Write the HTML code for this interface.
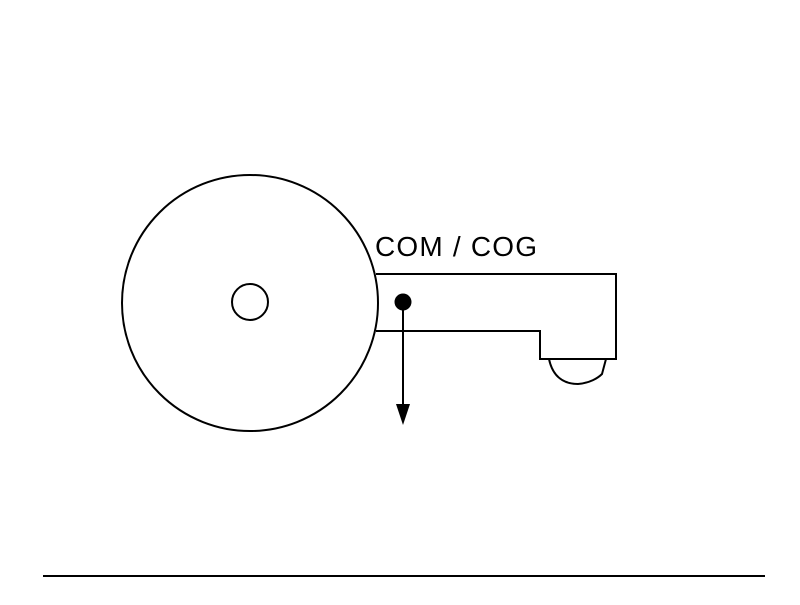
<!DOCTYPE html>
<html><head><meta charset="utf-8"><style>html,body{margin:0;background:#fff}</style></head>
<body>
<svg width="800" height="600" viewBox="0 0 800 600" xmlns="http://www.w3.org/2000/svg">
<rect width="800" height="600" fill="#fff"/>
<g fill="none" stroke="#000" stroke-width="2">
<circle cx="250" cy="303" r="128"/>
<circle cx="250" cy="302" r="18"/>
<path d="M376 274 H616 V359 H540 V331 H376"/>
<path d="M549 359 C553 378 565 384 578 384 C590 383 598 378 602 374 L606 359"/>
<line x1="403" y1="302" x2="403" y2="408"/>
<line x1="43" y1="576" x2="765" y2="576"/>
</g>
<polygon points="396,404 410,404 403,425" fill="#000"/>
<circle cx="403" cy="302" r="8.5" fill="#000"/>
<text x="375" y="256" font-family="Liberation Sans, sans-serif" font-size="28" textLength="162" fill="#000">COM / COG</text>
</svg>
</body></html>
